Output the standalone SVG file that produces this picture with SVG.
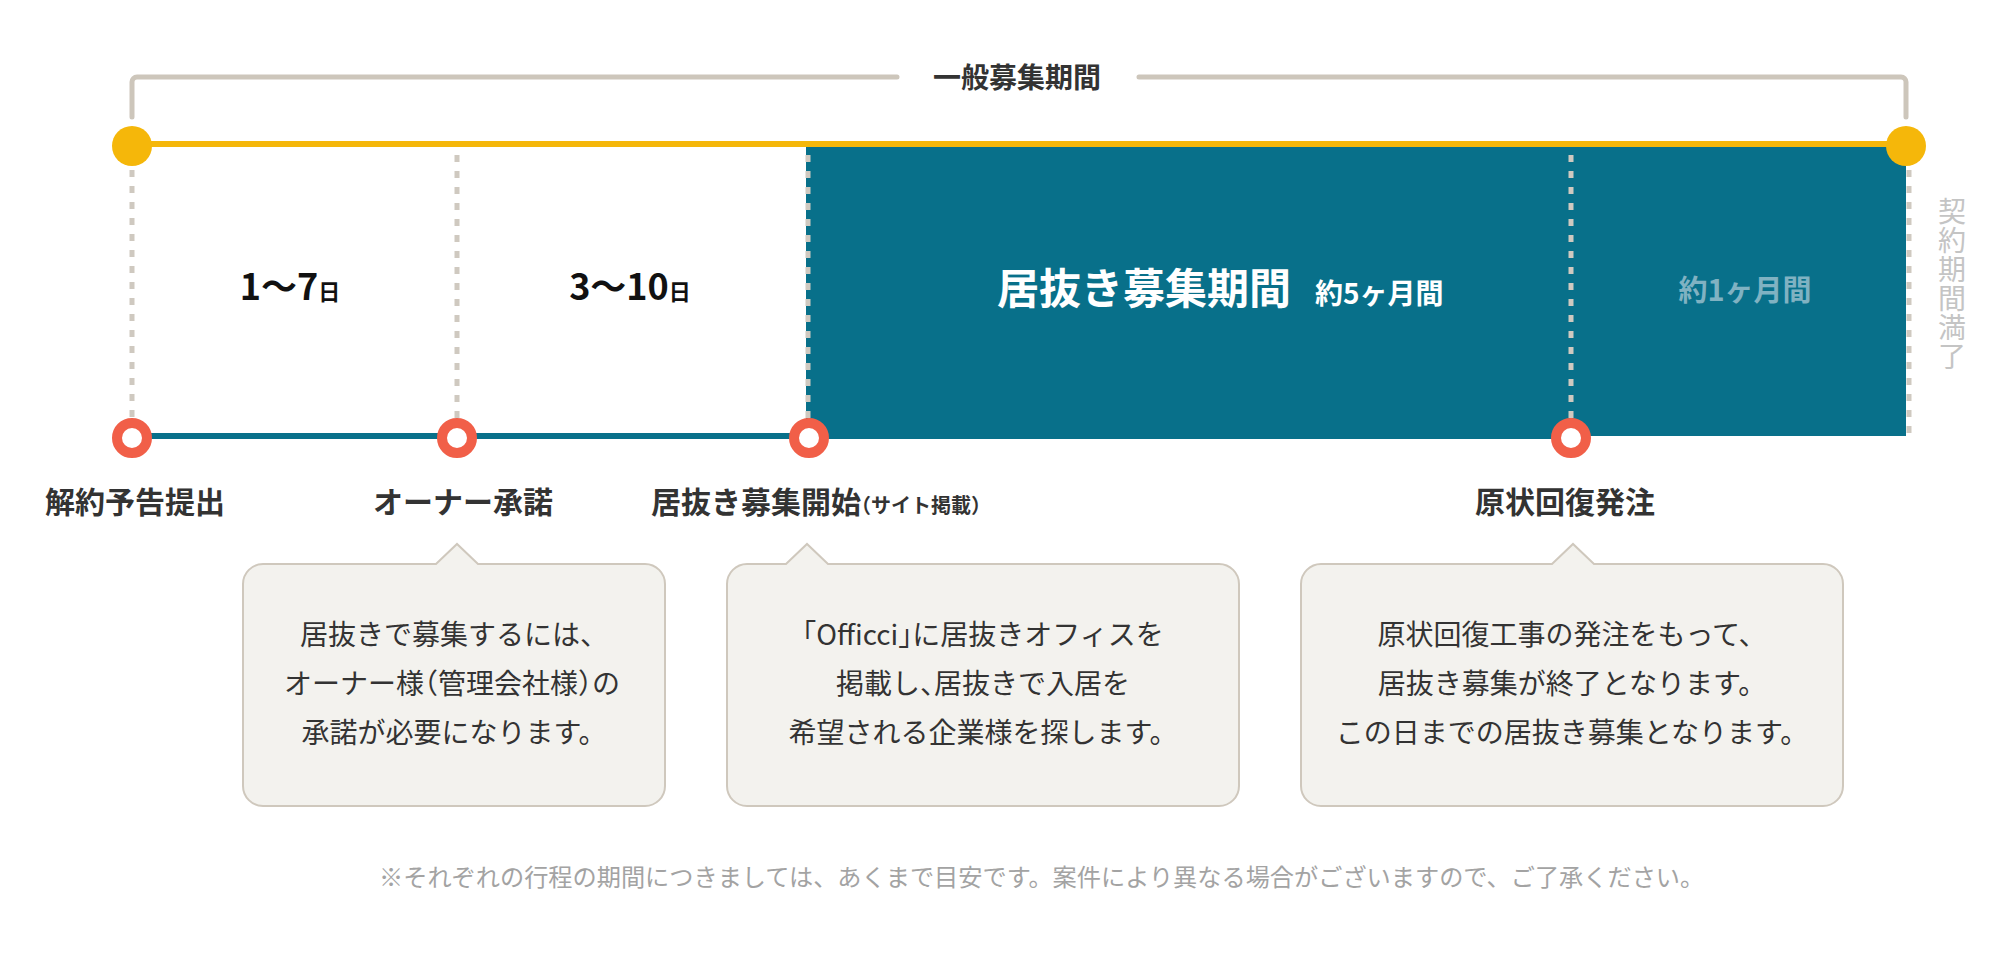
<svg xmlns="http://www.w3.org/2000/svg" width="2000" height="954" viewBox="0 0 2000 954">
<style>
text{font-family:"Noto Sans CJK JP","Noto Sans",sans-serif;}
.b{font-weight:700;}
.dk{fill:#333333;}
.lbl{font-size:30px;font-weight:700;fill:#333333;}
.box{fill:#f3f2ee;stroke:#cfc8bd;stroke-width:2;}
.bt{font-size:28px;fill:#333333;text-anchor:middle;}
.ring{fill:#ffffff;stroke:#f15f48;stroke-width:10;}
.ydot{fill:#f5b70a;}
.dash{stroke:#cfc9c0;stroke-width:5;stroke-dasharray:7 9;fill:none;}
.h{font-feature-settings:"halt";}
</style>
<rect width="2000" height="954" fill="#ffffff"/>
<g id="connectors">
  <path d="M132,117 V82 A5,5 0 0 1 137,77 H897" fill="none" stroke="#cdc6bb" stroke-width="5" stroke-linecap="round"/>
  <path d="M1139,77 H1901 A5,5 0 0 1 1906,82 V117" fill="none" stroke="#cdc6bb" stroke-width="5" stroke-linecap="round"/>
  <rect x="806" y="147" width="1100" height="289" fill="#08708a"/>
  <line x1="132" y1="144" x2="1906" y2="144" stroke="#f5b70a" stroke-width="6"/>
  <line x1="132" y1="436" x2="1571" y2="436" stroke="#08708a" stroke-width="6"/>
  <line class="dash" x1="132" y1="170" x2="132" y2="418"/>
  <line class="dash" x1="457" y1="155" x2="457" y2="418"/>
  <line class="dash" x1="808" y1="155" x2="808" y2="418"/>
  <line class="dash" x1="1571" y1="155" x2="1571" y2="418" stroke="#5592a6"/>
  <line class="dash" x1="1909" y1="170" x2="1909" y2="434" stroke-width="6"/>
</g>
<g id="title">
  <text x="1017" y="88" class="b dk" font-size="28" text-anchor="middle">一般募集期間</text>
</g>
<g id="start-dot"><circle class="ydot" cx="132" cy="146" r="20"/></g>
<g id="end-dot"><circle class="ydot" cx="1906" cy="146" r="20"/></g>
<g id="period-1">
  <text x="290" y="300" class="b" fill="#111111" text-anchor="middle"><tspan font-size="36">1〜7</tspan><tspan font-size="22">日</tspan></text>
</g>
<g id="period-2">
  <text x="630" y="300" class="b" fill="#111111" text-anchor="middle"><tspan font-size="36">3〜10</tspan><tspan font-size="22">日</tspan></text>
</g>
<g id="period-3">
  <text x="997" y="304" class="b" fill="#ffffff" font-size="42">居抜き募集期間</text>
  <text x="1315" y="304" class="b" fill="#ffffff" font-size="28">約5ヶ月間</text>
</g>
<g id="period-4">
  <text x="1745" y="301" class="b" fill="#80b2c2" font-size="29" text-anchor="middle">約1ヶ月間</text>
</g>
<g id="contract-end">
  <text x="1952" y="197" font-size="28" fill="#c4c4c4" writing-mode="vertical-rl" letter-spacing="1">契約期間満了</text>
</g>
<g id="m1">
  <circle class="ring" cx="132" cy="438" r="15"/>
  <text x="135" y="513" class="lbl" text-anchor="middle">解約予告提出</text>
</g>
<g id="m2">
  <circle class="ring" cx="457" cy="438" r="15"/>
  <text x="463" y="513" class="lbl" text-anchor="middle">オーナー承諾</text>
</g>
<g id="m3">
  <circle class="ring" cx="809" cy="438" r="15"/>
  <text x="651" y="513" class="lbl">居抜き募集開始<tspan font-size="20"><tspan class="h">（</tspan>サイト掲載<tspan class="h">）</tspan></tspan></text>
</g>
<g id="m4">
  <circle class="ring" cx="1571" cy="438" r="15"/>
  <text x="1565" y="513" class="lbl" text-anchor="middle">原状回復発注</text>
</g>
<g id="note-1">
  <path class="box" d="M263,564 H436 L457,544 L478,564 H645 A20,20 0 0 1 665,584 V786 A20,20 0 0 1 645,806 H263 A20,20 0 0 1 243,786 V584 A20,20 0 0 1 263,564 Z"/>
  <text class="bt" x="454" y="645">居抜きで募集するには、</text>
  <text class="bt" x="452" y="694">オーナー様<tspan class="h">（</tspan>管理会社様<tspan class="h">）</tspan>の</text>
  <text class="bt" x="454" y="743">承諾が必要になります。</text>
</g>
<g id="note-2">
  <path class="box" d="M747,564 H786 L807,544 L828,564 H1219 A20,20 0 0 1 1239,584 V786 A20,20 0 0 1 1219,806 H747 A20,20 0 0 1 727,786 V584 A20,20 0 0 1 747,564 Z"/>
  <text class="bt" x="983" y="645"><tspan class="h">「</tspan>Officci<tspan class="h">」</tspan>に居抜きオフィスを</text>
  <text class="bt" x="983" y="694">掲載し<tspan class="h">、</tspan>居抜きで入居を</text>
  <text class="bt" x="983" y="743">希望される企業様を探します。</text>
</g>
<g id="note-3">
  <path class="box" d="M1321,564 H1552 L1573,544 L1594,564 H1823 A20,20 0 0 1 1843,584 V786 A20,20 0 0 1 1823,806 H1321 A20,20 0 0 1 1301,786 V584 A20,20 0 0 1 1321,564 Z"/>
  <text class="bt" x="1572" y="645">原状回復工事の発注をもって、</text>
  <text class="bt" x="1572" y="694">居抜き募集が終了となります。</text>
  <text class="bt" x="1572" y="743">この日までの居抜き募集となります。</text>
</g>
<g id="footnote">
  <text x="379" y="886" font-size="24.2" fill="#a3a3a3">※それぞれの行程の期間につきましては、あくまで目安です。案件により異なる場合がございますので、ご了承ください。</text>
</g>
</svg>
